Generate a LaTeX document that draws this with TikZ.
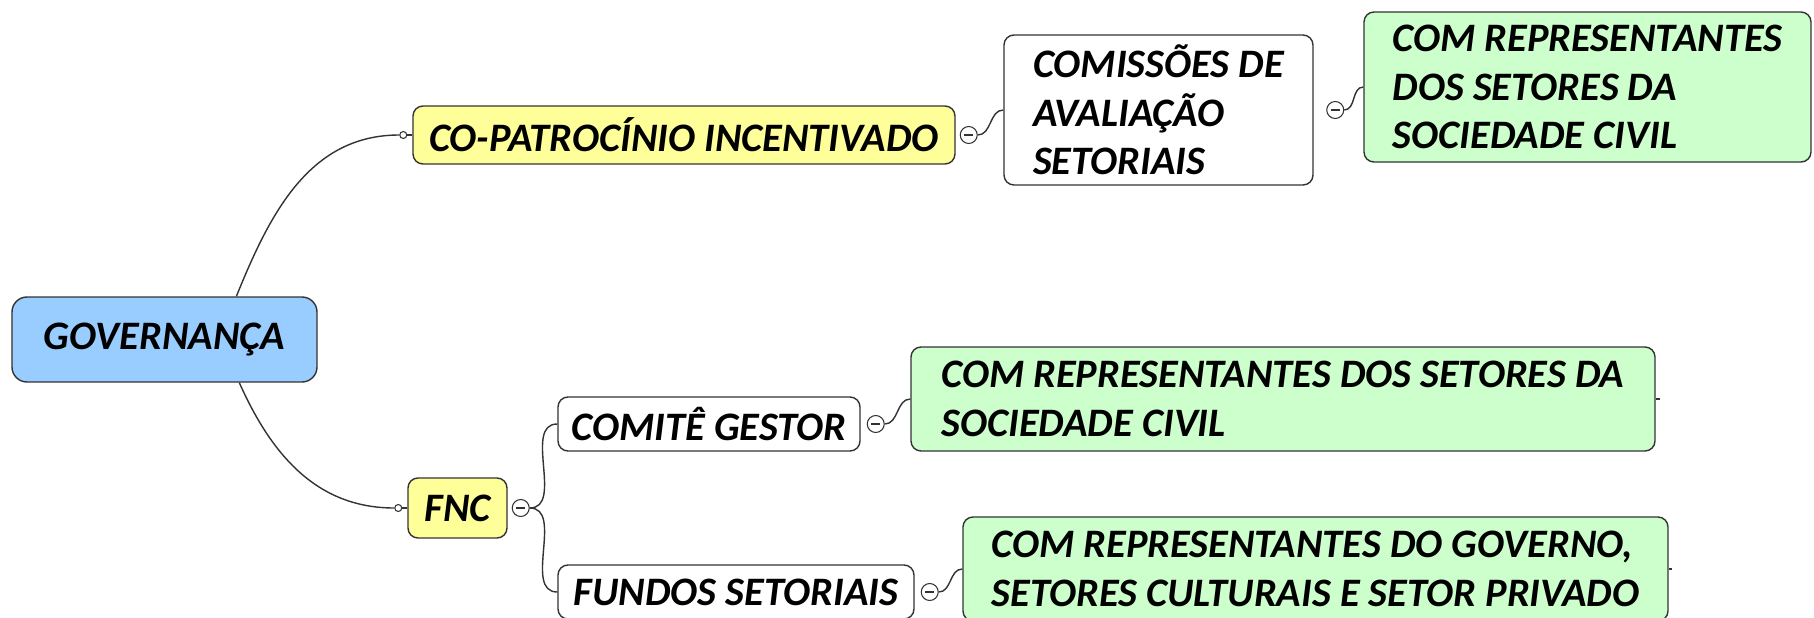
\documentclass[tikz,border=0pt]{standalone}
\usepackage{fontspec}
\setmainfont{Carlito}
\usetikzlibrary{positioning, shapes.geometric, arrows.meta, calc}

\definecolor{govblue}{HTML}{99CCFF}
\definecolor{mainyellow}{HTML}{FFFF99}
\definecolor{leafgreen}{HTML}{CCFFCC}

\begin{document}
\begin{tikzpicture}[
        topic/.style={draw=black!80, line width=0.8pt, rounded corners=0.2cm, align=left, inner sep=0pt,
            font=\fontsize{23}{27.5}\selectfont\bfseries\itshape},
        dotin/.style={circle, draw=black!80, fill=white, line width=0.6pt, inner sep=0pt, minimum size=0.14cm},
        fold/.style={circle, draw=black!80, fill=white, line width=0.6pt, inner sep=0pt, minimum size=0.34cm,
            path picture={\draw[line width=0.6pt] ([xshift=-0.09cm]path picture bounding box.center) -- ([xshift=0.09cm]path picture bounding box.center);}},
        link/.style={draw=black!80, line width=0.8pt}
    ]
        \useasboundingbox (0,0) rectangle (36.28,12.34);
        \clip (0,0) rectangle (36.28,12.34);

        % root
        \node[topic, fill=govblue, rounded corners=0.3cm, minimum width=6.1cm, minimum height=1.7cm] (gov) at (3.29,5.55) {GOVERNANÇA};

        % upper branch
        \node[topic, fill=mainyellow, minimum width=10.84cm, minimum height=1.16cm] (copat) at (13.68,9.64) {CO-PATROCÍNIO INCENTIVADO};
        \node[topic, fill=white, minimum width=6.18cm, minimum height=3.0cm] (comis) at (23.17,10.14) {COMISSÕES DE\\AVALIAÇÃO\\SETORIAIS};
        \node[topic, fill=leafgreen, minimum width=8.94cm, minimum height=3.0cm] (comisrep) at (31.75,10.6) {COM REPRESENTANTES\\DOS SETORES DA\\SOCIEDADE CIVIL};

        % lower branch
        \node[topic, fill=mainyellow, minimum width=1.98cm, minimum height=1.2cm] (fnc) at (9.15,2.18) {FNC};
        \node[topic, fill=white, minimum width=6.04cm, minimum height=1.08cm] (comite) at (14.18,3.86) {COMITÊ GESTOR};
        \node[topic, fill=leafgreen, minimum width=14.88cm, minimum height=2.08cm] (comiterep) at (25.66,4.36) {COM REPRESENTANTES DOS SETORES DA\\SOCIEDADE CIVIL};
        \node[topic, fill=white, minimum width=7.12cm, minimum height=1.08cm] (fundos) at (14.72,0.5) {FUNDOS SETORIAIS};
        \node[topic, fill=leafgreen, minimum width=14.1cm, minimum height=2.08cm] (fundosrep) at (26.31,0.96) {COM REPRESENTANTES DO GOVERNO,\\SETORES CULTURAIS E SETOR PRIVADO};

        % small circles
        \node[dotin, left=0.1cm of copat] (copatin) {};
        \node[dotin, left=0.1cm of fnc] (fncin) {};
        \node[fold, right=0.08cm of copat] (copatfold) {};
        \node[fold, right=0.25cm of comis] (comisfold) {};
        \node[fold, right=0.08cm of fnc] (fncfold) {};
        \node[fold, right=0.12cm of comite] (comitefold) {};
        \node[fold, right=0.12cm of fundos] (fundosfold) {};

        \draw[link] (gov.31) to[out=68, in=180] (copatin);
        \draw[link] (gov.-30) to[out=-66, in=180] (fncin);
        \draw[link] (copatin) -- (copat);
        \draw[link] (fncin) -- (fnc);

        \draw[link] (copatfold) to[out=0, in=180] (comis.west);
        \draw[link] (comisfold) to[out=0, in=180] (comisrep.west);
        \draw[link] (fncfold) to[out=0, in=180] (comite.west);
        \draw[link] (fncfold) to[out=0, in=180] (fundos.west);
        \draw[link] (comitefold) to[out=0, in=180] (comiterep.west);
        \draw[link] (fundosfold) to[out=0, in=180] (fundosrep.west);

        \draw[link] (comiterep.east) -- ++(0.08,0);
        \draw[link] (fundosrep.east) -- ++(0.06,0);
      \end{tikzpicture}
\end{document}
